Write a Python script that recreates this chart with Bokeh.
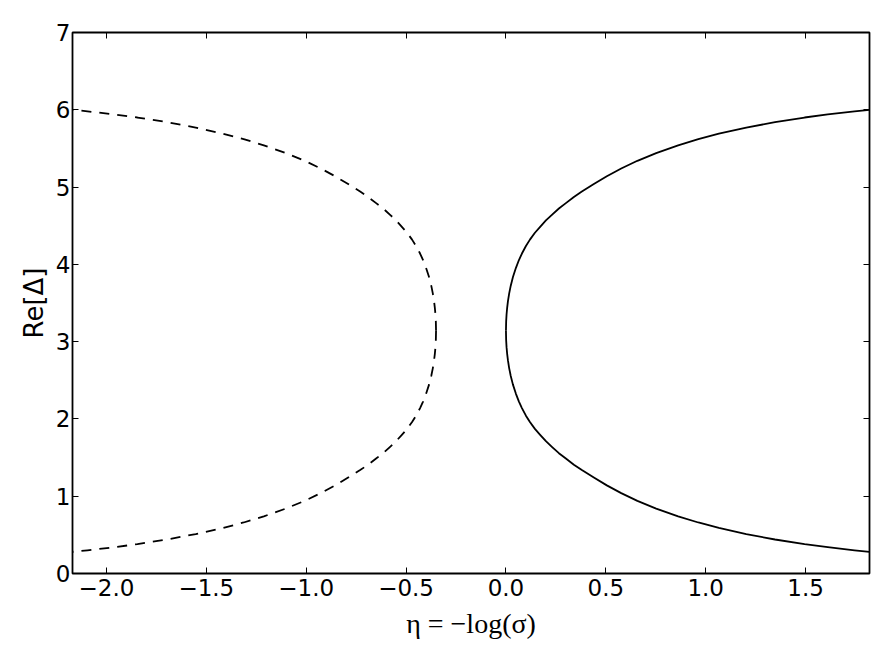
from bokeh.plotting import figure
from bokeh.models import Range1d, LinearAxis, FixedTicker, CustomJSTickFormatter, CustomLabelingPolicy
from bokeh.embed import file_html
from bokeh.resources import INLINE

# Solid curve: upper and lower branch share the same eta positions
solid_eta = [0.0, 0.001, 0.003, 0.006, 0.01, 0.016, 0.024, 0.035, 0.05, 0.065,
             0.08, 0.10, 0.12, 0.145, 0.17, 0.20, 0.23, 0.265, 0.30, 0.34,
             0.38, 0.44, 0.505, 0.577, 0.658, 0.752, 0.862, 0.963, 1.066, 1.203,
             1.347, 1.495, 1.611, 1.745, 1.82]
# Dashed curve (mirror image of the solid one)
dashed_eta = [-0.35, -0.351, -0.353, -0.356, -0.36, -0.366, -0.374, -0.385, -0.40, -0.415,
              -0.43, -0.45, -0.47, -0.495, -0.52, -0.55, -0.58, -0.615, -0.65, -0.69,
              -0.73, -0.79, -0.855, -0.927, -1.008, -1.102, -1.212, -1.313, -1.416, -1.553,
              -1.697, -1.845, -1.961, -2.095, -2.17]
# Re[Delta] on the upper and lower branch at those positions
upper_val = [3.14, 3.262, 3.351, 3.438, 3.523, 3.622, 3.724, 3.836, 3.955, 4.056,
             4.14, 4.238, 4.32, 4.409, 4.482, 4.568, 4.641, 4.723, 4.792, 4.872,
             4.942, 5.039, 5.14, 5.24, 5.34, 5.44, 5.54, 5.62, 5.69, 5.77,
             5.84, 5.90, 5.94, 5.98, 6.0]
lower_val = [3.14, 3.018, 2.929, 2.842, 2.757, 2.658, 2.556, 2.444, 2.325, 2.224,
             2.14, 2.042, 1.96, 1.871, 1.798, 1.712, 1.639, 1.557, 1.488, 1.408,
             1.338, 1.241, 1.14, 1.04, 0.94, 0.84, 0.74, 0.66, 0.59, 0.51,
             0.44, 0.38, 0.34, 0.30, 0.28]

x_ticks = [-2.0, -1.5, -1.0, -0.5, 0.0, 0.5, 1.0, 1.5]
y_ticks = [0, 1, 2, 3, 4, 5, 6, 7]
x_label = "η = −log(σ)"
y_label = "Re[Δ]"

p = figure(width=889, height=667, output_backend="svg", toolbar_location=None,
           x_range=Range1d(-2.17, 1.82), y_range=Range1d(0, 7),
           min_border_left=72, min_border_right=20, min_border_top=32, min_border_bottom=94,
           background_fill_color="white", border_fill_color="white")

p.grid.visible = False
p.outline_line_color = "black"
p.outline_line_width = 1.8
p.outline_line_alpha = 1.0

for vals in (upper_val, lower_val):
    p.line(dashed_eta, vals, line_color="black", line_width=1.8, line_dash="10 8", line_join="round")
    p.line(solid_eta, vals, line_color="black", line_width=1.8, line_join="round")

xt = FixedTicker(ticks=x_ticks)
yt = FixedTicker(ticks=y_ticks)
fmt = CustomJSTickFormatter(code="return tick.toFixed(1).replace('-', '\u2212');")

for ax in p.xaxis:
    ax.ticker = xt
    ax.formatter = fmt
for ax in p.yaxis:
    ax.ticker = yt

for ax in list(p.xaxis) + list(p.yaxis):
    ax.axis_line_color = None
    ax.major_tick_in = 6
    ax.major_tick_out = 0
    ax.minor_tick_in = 0
    ax.minor_tick_out = 0
    ax.major_tick_line_color = "black"
    ax.major_tick_line_width = 1
    ax.major_label_text_font = "DejaVu Sans"
    ax.major_label_text_font_size = "23px"
    ax.major_label_text_color = "black"

p.xaxis.major_label_standoff = 5
p.yaxis.major_label_standoff = 2
p.xaxis.axis_label = x_label
p.xaxis.axis_label_text_font = "Liberation Serif"
p.xaxis.axis_label_text_font_style = "normal"
p.xaxis.axis_label_text_font_size = "28px"
p.xaxis.axis_label_standoff = 9
p.xaxis.axis_label_text_color = "black"
p.yaxis.axis_label = y_label
p.yaxis.axis_label_text_font = "DejaVu Sans"
p.yaxis.axis_label_text_font_style = "normal"
p.yaxis.axis_label_text_font_size = "26px"
p.yaxis.axis_label_standoff = 4
p.yaxis.axis_label_text_color = "black"

no_labels = CustomLabelingPolicy(code="""
try {
  for (let i = 0; i < indices.size; i++) { indices.unset(i) }
  return indices
} catch (e) {
  return new indices.constructor(indices.size)
}
""")

top = LinearAxis(ticker=xt, major_label_policy=no_labels, major_label_text_font_size="10px",
                 major_label_standoff=0, major_tick_in=6, major_tick_out=0, minor_tick_in=0,
                 minor_tick_out=0, axis_line_color=None, major_tick_line_color="black",
                 major_tick_line_width=1)
right = LinearAxis(ticker=yt, major_label_policy=no_labels, major_label_text_font_size="10px",
                   major_label_standoff=0, major_tick_in=6, major_tick_out=0, minor_tick_in=0,
                   minor_tick_out=0, axis_line_color=None, major_tick_line_color="black",
                   major_tick_line_width=1)
p.add_layout(top, "above")
p.add_layout(right, "right")

with open("out.html", "w", encoding="utf-8") as f:
    f.write(file_html(p, INLINE))
